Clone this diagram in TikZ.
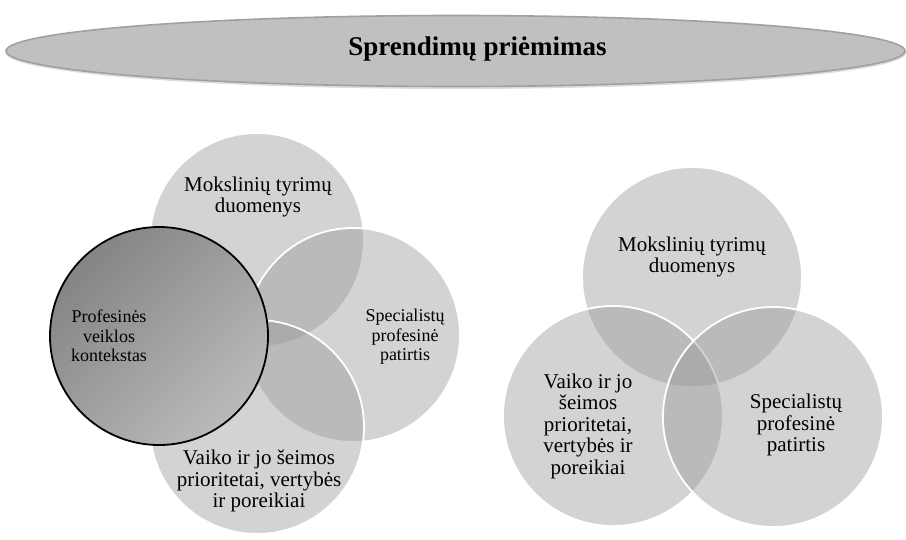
\documentclass[tikz,border=0pt]{standalone}
\usepackage{fontspec}
\setmainfont{Liberation Serif}
\definecolor{vgray}{RGB}{149,149,149}
\definecolor{elfill}{RGB}{192,192,192}
\definecolor{eldraw}{RGB}{160,160,160}
\definecolor{darkA}{RGB}{132,132,132}
\definecolor{darkB}{RGB}{186,186,186}
\begin{document}
\begin{tikzpicture}[x=1pt,y=-1pt,
  venn/.style={circle, minimum size=#1, inner sep=0pt, fill=vgray, fill opacity=0.41,
    draw=white, draw opacity=1, line width=1.8pt},
  lbl/.style={align=center, inner sep=0pt, text=black},
  big/.style={lbl, font=\fontsize{21}{21.5}\selectfont},
  small/.style={lbl, font=\fontsize{18}{19.5}\selectfont}]
\useasboundingbox (0,0) rectangle (906,539);
% title ellipse
\fill[gray!55, opacity=0.5] (456,53) ellipse [x radius=450, y radius=36];
\draw[fill=elfill, draw=eldraw, line width=1.6pt] (455.5,51) ellipse [x radius=449.5, y radius=35.5];
\node[lbl, font=\bfseries\fontsize{27}{30}\selectfont] (title) at (477.5,49.5) {Sprendimų priėmimas};
% left cluster
\node[venn=214pt] (lt) at (257,240) {};
\node[venn=214pt] (lr) at (353,335) {};
\node[venn=214pt] (lb) at (257,427) {};
\node[circle, minimum size=218pt, inner sep=0pt, draw=black, line width=1.8pt,
  shading=axis, top color=darkA, bottom color=darkB, shading angle=45] (ld) at (159,336) {};
\node[big] (ltt) at (258,197) {Mokslinių tyrimų\\duomenys};
\node[small] (lrt) at (405,337) {Specialistų\\profesinė\\patirtis};
\node[big] (lbt) at (259,481) {Vaiko ir jo šeimos\\prioritetai, vertybės\\ir poreikiai};
\node[small] (ldt) at (109,336) {Profesinės\\veiklos\\kontekstas};
% right cluster
\node[venn=220pt] (rt) at (692,277) {};
\node[venn=220pt] (rl) at (613,416) {};
\node[venn=220pt] (rr) at (773,417) {};
\node[big] (rtt) at (692,257) {Mokslinių tyrimų\\duomenys};
\node[big] (rlt) at (588,426) {Vaiko ir jo\\šeimos\\prioritetai,\\vertybės ir\\poreikiai};
\node[big] (rrt) at (796,425) {Specialistų\\profesinė\\patirtis};
\end{tikzpicture}
\end{document}
